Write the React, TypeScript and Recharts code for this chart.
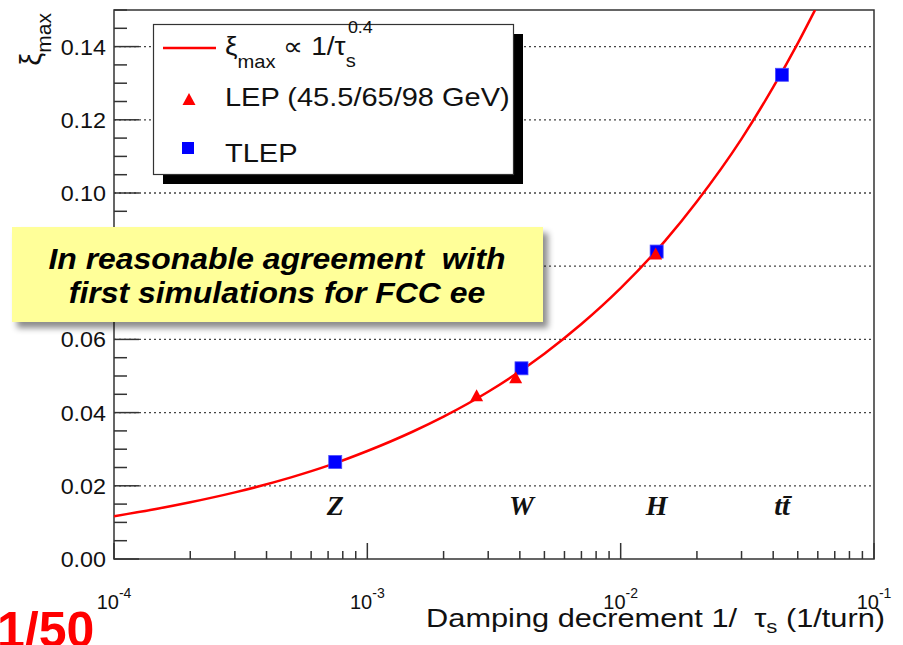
import React from 'react';
import {
  ComposedChart, Line, Scatter, XAxis, YAxis, ReferenceLine, ReferenceArea, Legend,
} from 'recharts';

// red fit line, xi_max ∝ 1/tau_s^0.4
const fitX = [1e-4, 1.5e-4, 2e-4, 3e-4, 5e-4, 7e-4, 1e-3, 1.5e-3, 2e-3, 3e-3, 5e-3, 7e-3, 1e-2, 1.5e-2, 2e-2, 3e-2, 4e-2, 5e-2, 5.85e-2];
const fitY = [0.0117, 0.0138, 0.0155, 0.0182, 0.0223, 0.0255, 0.0295, 0.0347, 0.0389, 0.0457, 0.0561, 0.0642, 0.074, 0.087, 0.0977, 0.1148, 0.1289, 0.1409, 0.15];

// LEP (45.5 / 65 / 98 GeV)
const lepX = [2.7e-3, 3.85e-3, 1.374e-2];
const lepY = [0.0445, 0.0494, 0.0832];

// TLEP: Z, W, H, ttbar
const tlepX = [7.47e-4, 4.06e-3, 1.387e-2, 4.33e-2];
const tlepY = [0.0265, 0.0521, 0.084, 0.1323];

const processNames = ['Z', 'W', 'H', 'tt\u0304'];
const processY = 0.012;

const xTicks = [
  1e-4, 2e-4, 3e-4, 4e-4, 5e-4, 6e-4, 7e-4, 8e-4, 9e-4,
  1e-3, 2e-3, 3e-3, 4e-3, 5e-3, 6e-3, 7e-3, 8e-3, 9e-3,
  1e-2, 2e-2, 3e-2, 4e-2, 5e-2, 6e-2, 7e-2, 8e-2, 9e-2,
  1e-1,
];
const xDecades = [1e-4, 1e-3, 1e-2, 1e-1];
const xExponents = ['-4', '-3', '-2', '-1'];

const yTicks = [
  0, 0.005, 0.01, 0.015, 0.02, 0.025, 0.03, 0.035, 0.04, 0.045, 0.05, 0.055, 0.06, 0.065, 0.07, 0.075,
  0.08, 0.085, 0.09, 0.095, 0.1, 0.105, 0.11, 0.115, 0.12, 0.125, 0.13, 0.135, 0.14, 0.145, 0.15,
];
const yMajor = [0, 0.02, 0.04, 0.06, 0.08, 0.1, 0.12, 0.14];
const yTickLabels = ['0.00', '0.02', '0.04', '0.06', '0.08', '0.10', '0.12', '0.14'];
const yGrid = [0.02, 0.04, 0.06, 0.08, 0.1, 0.12, 0.14];

const fitData = fitX.map((x, i) => ({ x, y: fitY[i] }));
const lepData = lepX.map((x, i) => ({ x, y: lepY[i] }));
const tlepData = tlepX.map((x, i) => ({ x, y: tlepY[i] }));
const processData = processNames.map((name, i) => ({ x: tlepX[i], y: processY, name }));

const SANS = '"Liberation Sans", Arial, Helvetica, sans-serif';
const SERIF = '"Liberation Serif", "Times New Roman", serif';
const AXIS = '#333333';

// eslint-disable-next-line @typescript-eslint/no-explicit-any
function YTick({ x, y, payload }: any) {
  const i = yMajor.findIndex(m => Math.abs(m - payload.value) < 1e-9);
  const major = i >= 0;
  return (
    <g>
      <line x1={x} x2={x + (major ? 25 : 13)} y1={y} y2={y} stroke={AXIS} strokeWidth={1.5} />
      {major && (
        <text
          transform={`translate(${x - 8},${y}) scale(1.06,1)`} dy="0.36em" textAnchor="end"
          fontSize={22} fill="#111" fontFamily={SANS}
        >
          {yTickLabels[i]}
        </text>
      )}
    </g>
  );
}

// eslint-disable-next-line @typescript-eslint/no-explicit-any
function XTick({ x, y, payload }: any) {
  const i = xDecades.findIndex(d => Math.abs(d - payload.value) / d < 1e-6);
  const major = i >= 0;
  return (
    <g>
      <line x1={x} x2={x} y1={y} y2={y - (major ? 16 : 8)} stroke={AXIS} strokeWidth={1.5} />
      {major && (
        <text x={x} y={y + 50} textAnchor="middle" fontSize={20} fill="#111" fontFamily={SANS}>
          <tspan>10</tspan>
          <tspan fontSize={14} dy={-11}>{xExponents[i]}</tspan>
        </text>
      )}
    </g>
  );
}

// eslint-disable-next-line @typescript-eslint/no-explicit-any
function YTitle({ viewBox }: any) {
  return (
    <text
      transform={`translate(${viewBox.x - 13},${viewBox.y + 3}) rotate(-90)`}
      textAnchor="end" fontFamily={SANS} fill="#111"
    >
      <tspan fontSize={29}>ξ</tspan>
      <tspan fontSize={21} dy={10}>max</tspan>
    </text>
  );
}

// eslint-disable-next-line @typescript-eslint/no-explicit-any
function XTitle({ viewBox }: any) {
  return (
    <text
      transform={`translate(${viewBox.x + viewBox.width + 11},${viewBox.y + 68}) scale(1.23,1)`}
      textAnchor="end" fontFamily={SANS} fontSize={25} fill="#111" style={{ whiteSpace: 'pre' }}
    >
      <tspan>Damping decrement 1/  τ</tspan>
      <tspan fontSize={18} dy={6}>s</tspan>
      <tspan dy={-6}> (1/turn)</tspan>
    </text>
  );
}

function LegendBox() {
  return (
    <svg width={372} height={162} style={{ display: 'block', overflow: 'visible' }}>
      <rect x={10} y={10} width={360} height={150} fill="#000" />
      <rect x={0.5} y={0.5} width={360} height={150} fill="#fff" stroke={AXIS} strokeWidth={1.2} />
      <line x1={10} x2={63} y1={24} y2={24} stroke="#ff0000" strokeWidth={2.5} />
      <text transform="translate(72,31) scale(1.12,1)" fontFamily={SANS} fontSize={25} fill="#111" style={{ whiteSpace: 'pre' }}>
        <tspan>ξ</tspan>
        <tspan fontSize={18} dy={13}>max</tspan>
        <tspan dy={-13}> ∝ 1/τ</tspan>
        <tspan fontSize={18} dy={12}>s</tspan>
        <tspan fontSize={16} dx={-7} dy={-34}>0.4</tspan>
      </text>
      <polygon points="36,69 29.5,81 42.5,81" fill="#ff0000" />
      <text transform="translate(72,82) scale(1.16,1)" fontFamily={SANS} fontSize={25} fill="#111">
        LEP (45.5/65/98 GeV)
      </text>
      <rect x={29} y={118} width={12} height={12} fill="#0000ff" />
      <text transform="translate(72,138) scale(1.16,1)" fontFamily={SANS} fontSize={25} fill="#111">
        TLEP
      </text>
    </svg>
  );
}

// eslint-disable-next-line @typescript-eslint/no-explicit-any
const triangle = (p: any) => (
  <polygon
    points={`${p.cx},${p.cy - 7} ${p.cx - 6.5},${p.cy + 5} ${p.cx + 6.5},${p.cy + 5}`}
    fill="#ff0000"
  />
);

// eslint-disable-next-line @typescript-eslint/no-explicit-any
const square = (p: any) => (
  <rect x={p.cx - 6.5} y={p.cy - 6.5} width={13} height={13} fill="#0000ff" stroke="#4d4dff" strokeWidth={0.8} />
);

// eslint-disable-next-line @typescript-eslint/no-explicit-any
const processLabel = (p: any) => (
  <text
    x={p.cx} y={p.cy} textAnchor="middle" fontFamily={SERIF} fontWeight="bold"
    fontStyle="italic" fontSize={28} fill="#111"
  >
    {p.payload.name}
  </text>
);

export default function App() {
  return (
    <div style={{ position: 'absolute', left: 0, top: 0, width: 903, height: 645, background: '#fff', overflow: 'hidden' }}>
      <ComposedChart
        width={903} height={645}
        margin={{ top: 10, right: 29, bottom: 26, left: 54 }}
        style={{ fontFamily: SANS }}
      >
        <XAxis
          dataKey="x" type="number" scale="log" domain={[1e-4, 1e-1]} allowDataOverflow
          ticks={xTicks} interval={0} tick={<XTick />} tickSize={0} tickMargin={0}
          axisLine={false} tickLine={false} height={60}
          label={{ content: <XTitle /> }}
        />
        <YAxis
          dataKey="y" type="number" domain={[0, 0.15]} allowDataOverflow
          ticks={yTicks} interval={0} tick={<YTick />} tickSize={0} tickMargin={0}
          axisLine={false} tickLine={false} width={60}
          label={{ content: <YTitle /> }}
        />
        {yGrid.map(v => (
          <ReferenceLine key={v} y={v} stroke="#444" strokeWidth={1.3} strokeDasharray="2 3" />
        ))}
        <ReferenceArea x1={1e-4} x2={1e-1} y1={0} y2={0.15} fill="none" stroke={AXIS} strokeWidth={1.5} />
        <Line
          data={fitData} dataKey="y" type="monotone" stroke="#ff0000" strokeWidth={2.5}
          dot={false} activeDot={false} isAnimationActive={false} legendType="line"
        />
        <Scatter data={tlepData} dataKey="y" shape={square} isAnimationActive={false} legendType="square" />
        <Scatter data={lepData} dataKey="y" shape={triangle} isAnimationActive={false} legendType="triangle" />
        <Scatter data={processData} dataKey="y" shape={processLabel} isAnimationActive={false} legendType="none" />
        <Legend
          content={<LegendBox />} layout="horizontal" verticalAlign="middle" align="center"
          wrapperStyle={{ left: 153, top: 24, width: 372, height: 162 }}
        />
      </ComposedChart>

      <svg
        width={903} height={645}
        style={{ position: 'absolute', left: 0, top: 0, pointerEvents: 'none' }}
      >
        <defs>
          <filter id="boxShadow" x="-10%" y="-20%" width="130%" height="160%">
            <feDropShadow dx={5} dy={6} stdDeviation={3} floodColor="#000" floodOpacity={0.45} />
          </filter>
        </defs>
        <rect x={12} y={227} width={531} height={95} fill="#ffff99" filter="url(#boxShadow)" />
        <text
          transform="translate(277,269) scale(1.1,1)" textAnchor="middle" fontFamily={SANS}
          fontWeight="bold" fontStyle="italic" fontSize={29} fill="#000" style={{ whiteSpace: 'pre' }}
        >
          In reasonable agreement  with
        </text>
        <text
          transform="translate(277,303) scale(1.1,1)" textAnchor="middle" fontFamily={SANS}
          fontWeight="bold" fontStyle="italic" fontSize={29} fill="#000"
        >
          first simulations for FCC ee
        </text>
        <text x={-3} y={647} fontFamily={SANS} fontWeight="bold" fontSize={50} fill="#ff0000">
          1/50
        </text>
      </svg>
    </div>
  );
}
